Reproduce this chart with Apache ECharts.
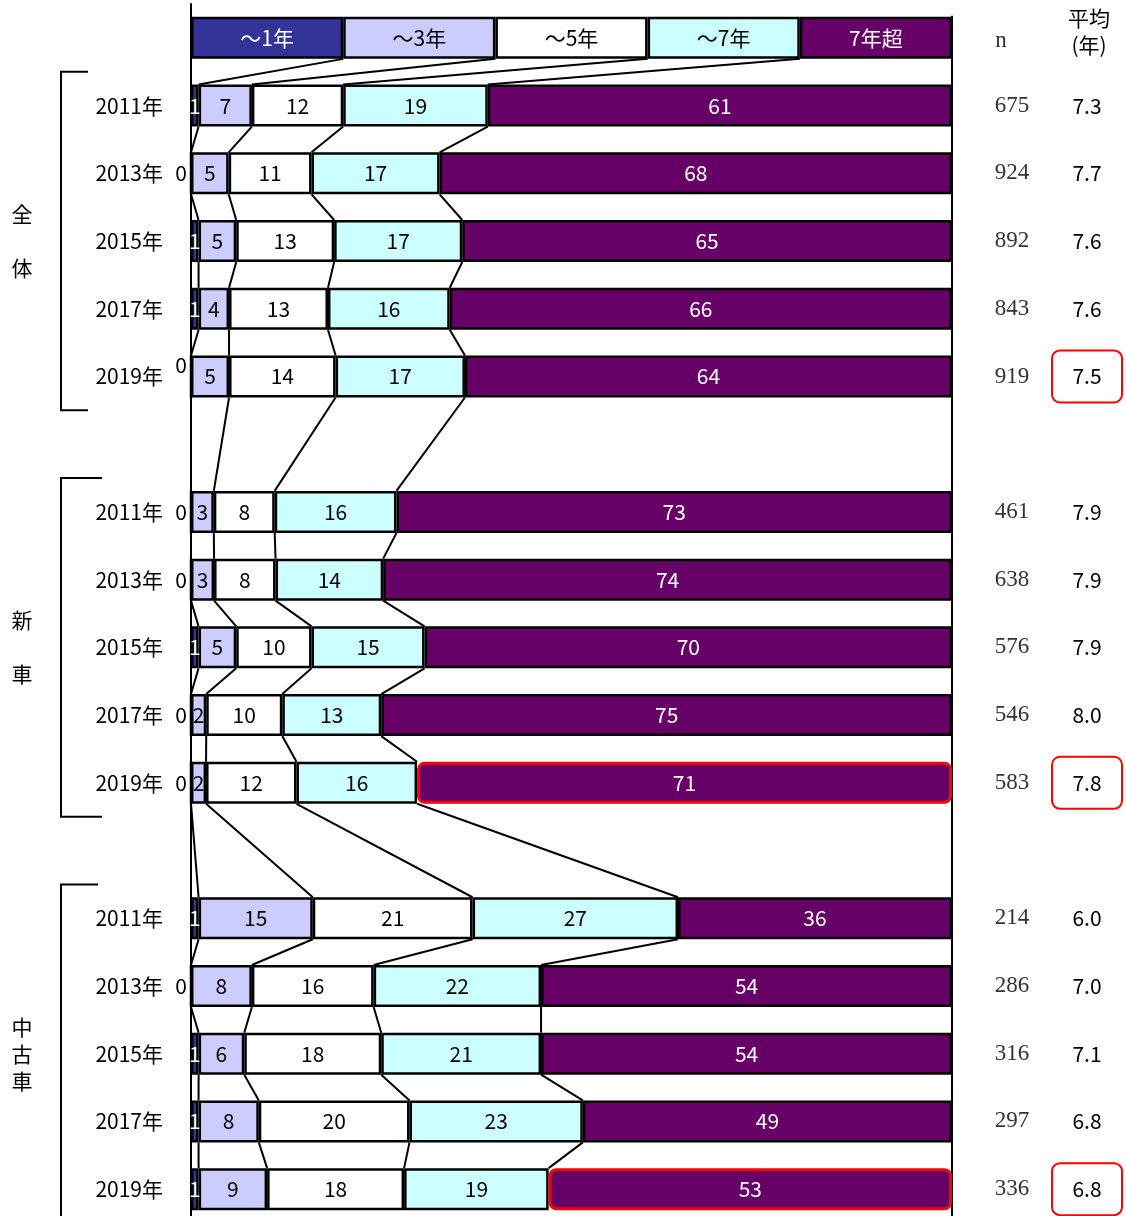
<!DOCTYPE html>
<html><head><meta charset="utf-8">
<script src="https://cdn.jsdelivr.net/npm/echarts@6/dist/echarts.min.js"></script>
<style>html,body{margin:0;padding:0;background:#fff;overflow:hidden}#c{width:1126px;height:1232px}</style>
</head><body><div id="c"></div>
<script>
// ---- data ----
const seriesNames = ['～1年', '～3年', '～5年', '～7年', '7年超'];
const years = ['2011年', '2013年', '2015年', '2017年', '2019年'];
const groupNames = ['全体', '新車', '中古車'];
const zentai   = [[1,7,12,19,61],[0,5,11,17,68],[1,5,13,17,65],[1,4,13,16,66],[0,5,14,17,64]];
const shinsha  = [[0,3,8,16,73],[0,3,8,14,74],[1,5,10,15,70],[0,2,10,13,75],[0,2,12,16,71]];
const chukosha = [[1,15,21,27,36],[0,8,16,22,54],[1,6,18,21,54],[1,8,20,23,49],[1,9,18,19,53]];
const nZentai   = [675, 924, 892, 843, 919];
const nShinsha  = [461, 638, 576, 546, 583];
const nChukosha = [214, 286, 316, 297, 336];
const avgZentai   = ['7.3', '7.7', '7.6', '7.6', '7.5'];
const avgShinsha  = ['7.9', '7.9', '7.9', '8.0', '7.8'];
const avgChukosha = ['6.0', '7.0', '7.1', '6.8', '6.8'];
const legendShares = [20, 20, 20, 20, 20];
const avgHighlight = [[0,4],[1,4],[2,4]];   // [group,row]
const barHighlight = [[1,4],[2,4]];          // 7年超 bar highlighted
const zeroRaised = [[0,4]];                  // "0" label drawn slightly higher

// ---- styles ----
const colors = ['#333399', '#CCCCFF', '#FFFFFF', '#CCFFFF', '#660066'];
const textColors = ['#ffffff', '#000000', '#000000', '#000000', '#ffffff'];
const FONT = '"Noto Sans CJK JP", "Noto Sans", sans-serif';
const SERIF = '"Liberation Serif", "DejaVu Serif", serif';
const BAR_W = 42;
const FS = 21;

// ---- build category rows ----
const groupData = [zentai, shinsha, chukosha];
const groupN = [nZentai, nShinsha, nChukosha];
const groupAvg = [avgZentai, avgShinsha, avgChukosha];
const has = (list, gi, ri) => list.some(h => h[0] === gi && h[1] === ri);
const cats = [''];
const rows = [{legend: true}];
const groupIdx = [];
groupData.forEach((g, gi) => {
  if (gi > 0) { cats.push(' '.repeat(gi)); rows.push(null); }
  const idxs = [];
  g.forEach((r, ri) => {
    idxs.push(cats.length);
    cats.push(years[ri]);
    rows.push({g: gi, r: ri, vals: r, n: groupN[gi][ri], avg: groupAvg[gi][ri],
      hiAvg: has(avgHighlight, gi, ri), hiBar: has(barHighlight, gi, ri), zUp: has(zeroRaised, gi, ri)});
  });
  groupIdx.push(idxs);
});

// normalised shares and cumulative boundaries per category
const shares = rows.map(row => {
  if (!row) return null;
  const v = row.legend ? legendShares : row.vals;
  const s = v.reduce((a, b) => a + b, 0);
  return v.map(x => x / s * 100);
});
const cums = shares.map(sh => {
  if (!sh) return null;
  const c = []; let acc = 0;
  for (let k = 0; k < 4; k++) { acc += sh[k]; c.push(acc); }
  return c;
});
const links = [];
let prev = 0;
for (let i = 1; i < rows.length; i++) {
  if (rows[i]) { links.push([prev, i]); prev = i; }
}

const barSeries = seriesNames.map((name, k) => ({
  name, type: 'bar', stack: 'total', barWidth: BAR_W, yAxisIndex: 0,
  itemStyle: {color: colors[k], borderColor: '#000', borderWidth: 2.5},
  label: {show: true, position: 'inside', color: textColors[k], fontSize: FS, fontFamily: FONT,
    formatter: p => (p.data && p.data.lbl !== undefined) ? p.data.lbl : ''},
  z: 2,
  data: rows.map((row, i) => {
    if (!row) return '-';
    const item = {value: shares[i][k]};
    if (row.legend) { item.lbl = name; return item; }
    const raw = row.vals[k];
    item.lbl = String(raw);
    if (k === 0 && raw === 0) item.label = {show: false};
    if (k === 4 && row.hiBar) item.itemStyle = {borderColor: '#ff0000', borderWidth: 3, borderRadius: 6};
    return item;
  })
}));

const linkSeries = {
  type: 'custom', coordinateSystem: 'cartesian2d', yAxisIndex: 0, z: 1, silent: true,
  data: links,
  encode: {x: 0, y: 1},
  renderItem: (params, api) => {
    const from = api.value(0), to = api.value(1);
    const children = [];
    for (let k = 0; k < 4; k++) {
      const p1 = api.coord([cums[from][k], from]);
      const p2 = api.coord([cums[to][k], to]);
      children.push({type: 'line', shape: {x1: p1[0], y1: p1[1] + BAR_W / 2, x2: p2[0], y2: p2[1] - BAR_W / 2},
        style: {stroke: '#000', lineWidth: 2}});
    }
    return {type: 'group', children};
  }
};

const chart = echarts.init(document.getElementById('c'), null, {renderer: 'canvas'});
chart.setOption({
  animation: false,
  backgroundColor: '#fff',
  grid: {left: 191, right: 173, top: 4, height: 1219, containLabel: false},
  xAxis: {type: 'value', min: 0, max: 100, show: false},
  yAxis: [{
    type: 'category', inverse: true, data: cats,
    axisLine: {show: true, lineStyle: {color: '#000', width: 2}},
    axisTick: {show: false}, splitLine: {show: false},
    axisLabel: {interval: 0, margin: 4,
      formatter: (v, i) => {
        const row = rows[i];
        if (!row || row.legend) return '';
        if (row.vals[0] !== 0) return `{y|${v}}{z| }`;
        return row.zUp ? `{y|${v}}{zu|0}` : `{y|${v}}{z|0}`;
      },
      rich: {
        y: {fontSize: FS, fontFamily: FONT, color: '#000', lineHeight: 44},
        z: {fontSize: FS, fontFamily: FONT, color: '#000', width: 24, align: 'right'},
        zu: {fontSize: FS, fontFamily: FONT, color: '#000', width: 24, align: 'right', lineHeight: 22, verticalAlign: 'top'}
      }}
  }, {
    type: 'category', inverse: true, data: cats, position: 'right',
    axisLine: {show: false}, axisTick: {show: false}, splitLine: {show: false},
    axisLabel: {interval: 0, margin: 40, align: 'left',
      formatter: (v, i) => {
        const row = rows[i];
        if (!row || row.legend) return '';
        return `{n|${row.n}}{s| }{${row.hiAvg ? 'ah' : 'a'}|${row.avg}}`;
      },
      rich: {
        n: {fontSize: 23, fontFamily: SERIF, color: '#333', width: 40, align: 'center'},
        s: {width: 20},
        a: {fontSize: FS, fontFamily: FONT, color: '#000', width: 70, height: 52, align: 'center', verticalAlign: 'middle', lineHeight: 52},
        ah: {fontSize: FS, fontFamily: FONT, color: '#000', width: 70, height: 52, align: 'center', verticalAlign: 'middle', lineHeight: 52,
          borderColor: '#ff0000', borderWidth: 2, borderRadius: 8}
      }}
  }],
  series: [...barSeries, linkSeries]
});

// ---- decorations: brackets, group labels, right border, headers ----
const yPix = i => chart.convertToPixel({yAxisIndex: 0}, i);
const xRight = chart.convertToPixel({xAxisIndex: 0}, 100);
const half = (yPix(1) - yPix(0)) / 2;
const tickEnds = [88, 102, 98];
const graphics = [];
groupIdx.forEach((idxs, gi) => {
  const yTop = yPix(idxs[0]) - half;
  const yBot = yPix(idxs[idxs.length - 1]) + half;
  const bx = 61;
  graphics.push({type: 'polyline', shape: {points: [[tickEnds[gi], yTop], [bx, yTop], [bx, yBot], [tickEnds[gi], yBot]]},
    style: {stroke: '#000', lineWidth: 2, fill: null}});
  const yc = yPix(idxs[2]);
  const txt = groupNames[gi].length === 2 ? groupNames[gi].split('').join('\n\n') : groupNames[gi].split('').join('\n');
  graphics.push({type: 'text', x: 22, y: yc, style: {text: txt, fontSize: FS, fontFamily: FONT, fill: '#000',
    align: 'center', verticalAlign: 'middle', lineHeight: 27}});
});
graphics.push({type: 'line', shape: {x1: xRight, y1: yPix(0) - BAR_W / 2 - 1, x2: xRight, y2: 1232},
  style: {stroke: '#000', lineWidth: 2}});
graphics.push({type: 'text', x: 1001, y: 41, style: {text: 'n', fontSize: 23, fontFamily: SERIF, fill: '#333', align: 'center', verticalAlign: 'middle'}});
graphics.push({type: 'text', x: 1089, y: 32, style: {text: '平均\n(年)', fontSize: FS, fontFamily: FONT, fill: '#000', align: 'center', verticalAlign: 'middle', lineHeight: 27}});
chart.setOption({graphic: graphics});
</script></body></html>
